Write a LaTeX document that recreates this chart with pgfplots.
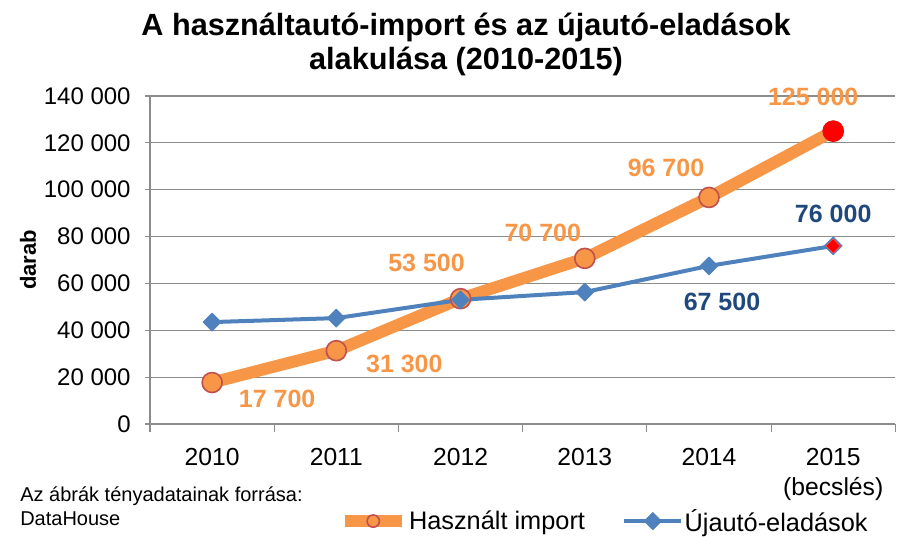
\documentclass[border=0pt]{standalone}
\usepackage{fontspec}
\setmainfont{Liberation Sans}
\usepackage{pgfplots}
\pgfplotsset{compat=1.18}
\definecolor{orng}{HTML}{F79646}
\definecolor{orngedge}{HTML}{C0504D}
\definecolor{blu}{HTML}{4F81BD}
\definecolor{dblu}{HTML}{1F497D}
\definecolor{gridc}{HTML}{8C8C8C}
\begin{document}
\begin{tikzpicture}
\useasboundingbox (-112.5pt,-84pt) rectangle (561pt,318pt);
\begin{axis}[
  at={(0,0)}, anchor=south west,
  scale only axis, width=559pt, height=246pt,
  xmin=-0.5, xmax=5.5, ymin=0, ymax=140000,
  clip=false,
  axis x line=bottom, axis y line=left,
  axis line style={gridc, line width=0.8pt, -},
  xtick={0,...,5},
  xticklabels={2010,2011,2012,2013,2014,{2015\\(becslés)}},
  xticklabel style={align=center, font=\fontsize{18.5}{22}\selectfont, yshift=-11pt},
  minor xtick={-0.5,0.5,...,5.5},
  major x tick style={draw=none},
  tick align=outside,
  tick style={gridc, line width=0.8pt},
  major tick length=4pt, minor tick length=6pt,
  scaled y ticks=false,
  ytick={0,20000,40000,60000,80000,100000,120000,140000},
  yticklabels={0,20 000,40 000,60 000,80 000,100 000,120 000,140 000},
  yticklabel style={font=\fontsize{18}{21}\selectfont, xshift=-7pt},
  ymajorgrids, major grid style={gridc, line width=0.8pt},
  legend style={at={(rel axis cs:0.609,-0.296)}, anchor=center, draw=none, fill=none,
    font=\fontsize{19}{22}\selectfont, legend columns=2,
    nodes={inner xsep=1pt},
    /tikz/every even column/.append style={column sep=27pt}},
  legend cell align=left,
  legend image code/.code={\draw[mark repeat=2,mark phase=2,#1,mark size=4.6pt] plot coordinates {(0cm,0cm) (0.75cm,0cm) (1.5cm,0cm)};},
]
\addplot[orng, line width=9pt, line join=round, mark=*, mark size=7.5pt,
  mark options={fill=orng, draw=orngedge, line width=1.2pt}]
  coordinates {(0,17700)(1,31300)(2,53500)(3,70700)(4,96700)(5,125000)};
\addlegendentry{Használt import}
\addplot[forget plot, only marks, mark=*, mark size=7.5pt, mark options={fill=red, draw=red, line width=1pt}]
  coordinates {(5,125000)};
\addplot[blu, line width=3pt, line join=round, mark=square*, mark size=4.8pt,
  mark options={rotate=45, fill=blu, draw=blu, line width=0.5pt}]
  coordinates {(0,43500)(1,45200)(2,53000)(3,56300)(4,67500)(5,76000)};
\addlegendentry{Újautó-eladások}
\addplot[forget plot, only marks, mark=square*, mark size=3.8pt, mark options={rotate=45, fill=red, draw=red!70!white, line width=0.5pt}]
  coordinates {(5,76000)};
% data labels
\begin{scope}[every node/.style={font=\fontsize{18.75}{22}\selectfont\bfseries}]
\node[text=orng, xshift=48.75pt, yshift=-12pt] at (axis cs:0,17700) {17 700};
\node[text=orng, xshift=51pt, yshift=-9.75pt] at (axis cs:1,31300) {31 300};
\node[text=orng, xshift=-25.5pt, yshift=27pt] at (axis cs:2,53500) {53 500};
\node[text=orng, xshift=-31.5pt, yshift=18.75pt] at (axis cs:3,70700) {70 700};
\node[text=orng, xshift=-32.25pt, yshift=22.5pt] at (axis cs:4,96700) {96 700};
\node[text=orng, xshift=-15pt, yshift=25.5pt] at (axis cs:5,125000) {125 000};
\node[text=dblu, xshift=0pt, yshift=24pt] at (axis cs:5,76000) {76 000};
\node[text=dblu, xshift=9.75pt, yshift=-27pt] at (axis cs:4,67500) {67 500};
\end{scope}
\end{axis}
\node[font=\fontsize{23}{25.5}\selectfont\bfseries, align=center] at (237pt,285pt)
  {A használtautó-import és az újautó-eladások\\alakulása (2010-2015)};
\node[font=\fontsize{16.5}{19}\selectfont\bfseries, rotate=90] at (-91.5pt,123pt) {darab};
\node[font=\fontsize{15}{18}\selectfont, anchor=west, inner sep=0pt] at (-97.5pt,-54pt) {Az ábrák tényadatainak forrása:};
\node[font=\fontsize{15}{18}\selectfont, anchor=west, inner sep=0pt] at (-97.5pt,-71.25pt) {DataHouse};
\end{tikzpicture}
\end{document}
